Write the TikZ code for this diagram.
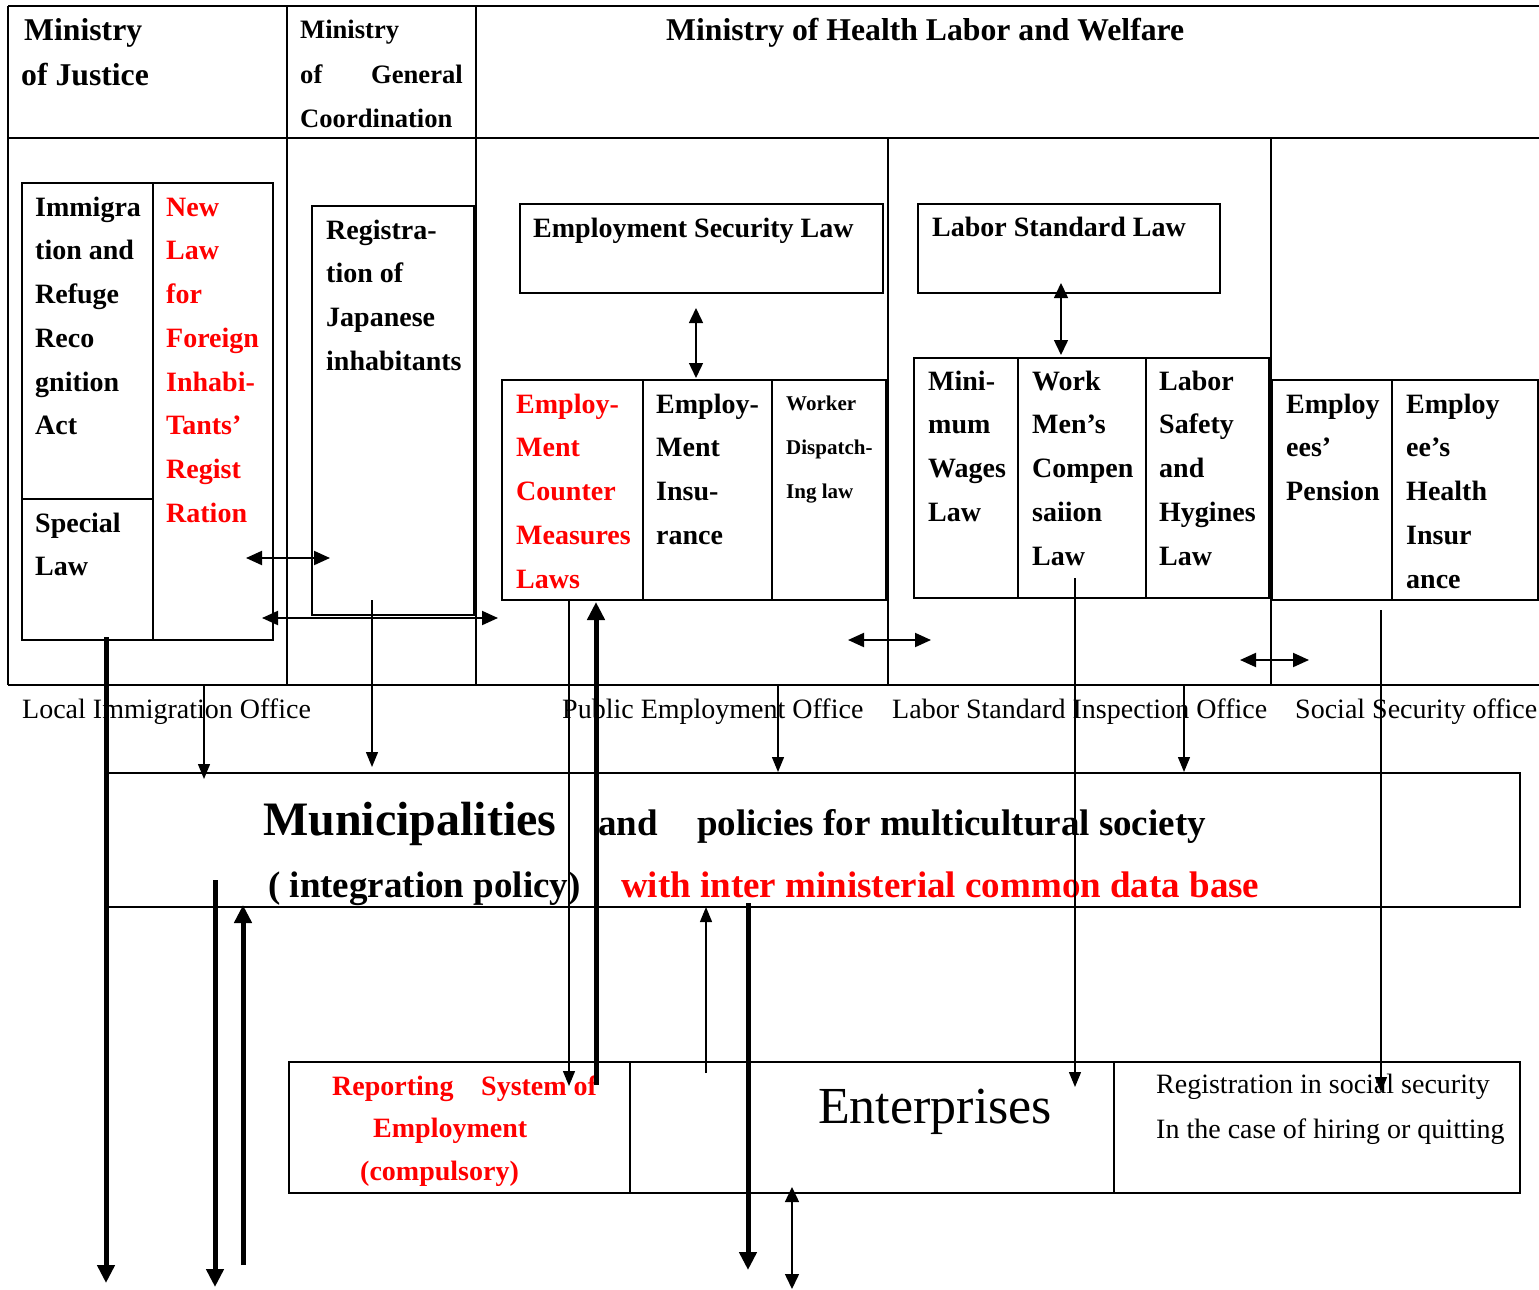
\documentclass[tikz,border=0pt]{standalone}
\usepackage{fontspec}
\setmainfont{Liberation Serif}
\usetikzlibrary{arrows.meta}
\definecolor{myred}{RGB}{255,0,0}
\newcommand\fl{\rule{0pt}{30pt}}
\tikzset{
  frame/.style={line width=2pt},
  box/.style={draw, line width=2pt, inner sep=0pt, outer sep=0pt, anchor=north west},
  bt/.style={font=\fontsize{28}{43.75}\selectfont\bfseries, inner sep=0pt, align=left},
  st/.style={font=\fontsize{21}{44}\selectfont\bfseries, inner sep=0pt, align=left},
  rt/.style={font=\fontsize{28}{45}\selectfont, inner sep=0pt, anchor=base west},
  ml/.style={anchor=north west, yshift=30pt},
  bl/.style={anchor=base west},
  hd/.style={font=\fontsize{31.7}{40}\selectfont\bfseries, inner sep=0pt, anchor=base west},
  hg/.style={font=\fontsize{26.6}{40}\selectfont\bfseries, inner sep=0pt, anchor=base west},
  big/.style={font=\fontsize{37}{40}\selectfont\bfseries, inner sep=0pt, anchor=base west},
  thinarr/.style={line width=1.3pt, -{Triangle[length=15pt,width=12pt]}},
  thickarr/.style={line width=5pt, -{Triangle[length=18pt,width=17pt]}},
  dblh/.style={line width=2pt, {Triangle[length=16pt,width=14pt]}-{Triangle[length=16pt,width=14pt]}},
  dblv/.style={line width=1.5pt, {Triangle[length=15pt,width=14pt]}-{Triangle[length=15pt,width=14pt]}},
}
\begin{document}
\begin{tikzpicture}[x=1pt,y=-1pt]
\useasboundingbox (0,0) rectangle (1539,1290);
% outer frame
\draw[frame] (8,6) -- (1539,6);
\draw[frame] (8,138) -- (1539,138);
\draw[frame] (8,685) -- (1539,685);
\draw[frame] (8,6) -- (8,685);
\draw[frame] (287,6) -- (287,685);
\draw[frame] (476,6) -- (476,685);
\draw[frame] (888,138) -- (888,685);
\draw[frame] (1271,138) -- (1271,685);
% boxes
\node[box, minimum width=251pt, minimum height=457pt] (immbox) at (22,183) {};
\draw[frame] (153,183) -- (153,640);
\draw[frame] (22,499) -- (153,499);
\node[box, minimum width=162pt, minimum height=409pt] (regbox) at (312,206) {};
\node[box, minimum width=363pt, minimum height=89pt] (eslbox) at (520,204) {};
\node[box, minimum width=384pt, minimum height=220pt] (empbox) at (502,380) {};
\draw[frame] (643,380) -- (643,600);
\draw[frame] (772,380) -- (772,600);
\node[box, minimum width=302pt, minimum height=89pt] (lslbox) at (918,204) {};
\node[box, minimum width=355pt, minimum height=240pt] (labbox) at (914,358) {};
\draw[frame] (1018,358) -- (1018,598);
\draw[frame] (1146,358) -- (1146,598);
\node[box, minimum width=266pt, minimum height=220pt] (penbox) at (1272,380) {};
\draw[frame] (1392,380) -- (1392,600);
\node[box, minimum width=1413pt, minimum height=134pt] (munbox) at (107,773) {};
\node[box, minimum width=1231pt, minimum height=131pt] (entbox) at (289,1062) {};
\draw[frame] (630,1062) -- (630,1193);
\draw[frame] (1114,1062) -- (1114,1193);
% headers
\node[hd] (mj1) at (24,41) {Ministry};
\node[hd] (mj2) at (21,85) {of Justice};
\node[hg] (mg1) at (300,39) {Ministry};
\node[hg] (mg2) at (300,83) {of};
\node[hg] (mg3) at (371,83) {General};
\node[hg] (mg4) at (300,127) {Coordination};
\node[hd] (mh) at (666,41) {Ministry of Health Labor and Welfare};
% box texts
\node[bt, ml] (imm) at (35,216) {\fl Immigra\\tion and\\Refuge\\Reco\\gnition\\Act};
\node[bt, ml] (spl) at (35,532) {\fl Special\\Law};
\node[bt, ml, text=myred] (nlf) at (166,216) {\fl New\\Law\\for\\Foreign\\Inhabi-\\Tants’\\Regist\\Ration};
\node[bt, ml] (reg) at (326,239) {\fl Registra-\\tion of\\Japanese\\inhabitants};
\node[bt, bl] (esl) at (533,237) {Employment Security Law};
\node[bt, bl] (lsl) at (932,236) {Labor Standard Law};
\node[bt, ml, text=myred] (ecm) at (516,413) {\fl Employ-\\Ment\\Counter\\Measures\\Laws};
\node[bt, ml] (eins) at (656,413) {\fl Employ-\\Ment\\Insu-\\rance};
\node[st, ml] (wdl) at (786,410) {\fl Worker\\Dispatch-\\Ing law};
\node[bt, ml] (mwl) at (928,390) {\fl Mini-\\mum\\Wages\\Law};
\node[bt, ml] (wmc) at (1032,390) {\fl Work\\Men’s\\Compen\\saiion\\Law};
\node[bt, ml] (lsh) at (1159,390) {\fl Labor\\Safety\\and\\Hygines\\Law};
\node[bt, ml] (ep) at (1286,413) {\fl Employ\\ees’\\Pension};
\node[bt, ml] (ehi) at (1406,413) {\fl Employ\\ee’s\\Health\\Insur\\ance};
% office labels
\node[rt] (lio) at (22,718) {Local Immigration Office};
\node[rt] (peo) at (562,718) {Public Employment Office};
\node[rt] (lsio) at (892,718) {Labor Standard Inspection Office};
\node[rt] (sso) at (1295,718) {Social Security office};
% municipalities
\node[font=\fontsize{48}{50}\selectfont\bfseries, inner sep=0pt, anchor=base west] (mun) at (263,835) {Municipalities};
\node[big] (and) at (598,835) {and};
\node[big] (pol) at (697,835) {policies for multicultural society};
\node[big] (ipol) at (268,897) {( integration policy)};
\node[big, text=myred] (db) at (621,897) {with inter ministerial common data base};
% enterprises
\node[bt, bl, text=myred] (rep1) at (332,1095) {Reporting};
\node[bt, bl, text=myred] (rep2) at (481,1095) {System of};
\node[bt, bl, text=myred] (rep3) at (373,1137) {Employment};
\node[bt, bl, text=myred] (rep4) at (360,1180) {(compulsory)};
\node[font=\fontsize{52}{54}\selectfont, inner sep=0pt, anchor=base west] (ent) at (818,1123) {Enterprises};
\node[rt] (rs1) at (1156,1093) {Registration in social security};
\node[rt] (rs2) at (1156,1138) {In the case of hiring or quitting};
% arrow end points
\coordinate (a1s) at (106,637);  \coordinate (a1e) at (106,1283);
\coordinate (a2s) at (215,880);  \coordinate (a2e) at (215,1287);
\coordinate (a3s) at (243,1265); \coordinate (a3e) at (243,905);
\coordinate (a4s) at (246,558);  \coordinate (a4e) at (330,558);
\coordinate (a5s) at (262,618);  \coordinate (a5e) at (498,618);
\coordinate (a6s) at (372,600);  \coordinate (a6e) at (372,767);
\coordinate (a7s) at (204,685);  \coordinate (a7e) at (204,779);
\coordinate (a8s) at (569,600);  \coordinate (a8e) at (569,1086);
\coordinate (a9s) at (596,1085); \coordinate (a9e) at (596,602);
\coordinate (a10s) at (778,686); \coordinate (a10e) at (778,772);
\coordinate (a11s) at (706,1073); \coordinate (a11e) at (706,907);
\coordinate (a12s) at (748,903); \coordinate (a12e) at (748,1270);
\coordinate (a13s) at (792,1187); \coordinate (a13e) at (792,1289);
\coordinate (a14s) at (696,308); \coordinate (a14e) at (696,378);
\coordinate (a15s) at (1061,283); \coordinate (a15e) at (1061,355);
\coordinate (a16s) at (848,640); \coordinate (a16e) at (931,640);
\coordinate (a17s) at (1240,660); \coordinate (a17e) at (1309,660);
\coordinate (a18s) at (1075,578); \coordinate (a18e) at (1075,1087);
\coordinate (a19s) at (1184,684); \coordinate (a19e) at (1184,772);
\coordinate (a20s) at (1381,610); \coordinate (a20e) at (1381,1092);
% arrows
\draw[thickarr] (a1s) -- (a1e);
\draw[thickarr] (a2s) -- (a2e);
\draw[thickarr] (a3s) -- (a3e);
\draw[dblh] (a4s) -- (a4e);
\draw[dblh] (a5s) -- (a5e);
\draw[thinarr] (a6s) -- (a6e);
\draw[thinarr] (a7s) -- (a7e);
\draw[thinarr] (a8s) -- (a8e);
\draw[thickarr] (a9s) -- (a9e);
\draw[thinarr] (a10s) -- (a10e);
\draw[thinarr] (a11s) -- (a11e);
\draw[thickarr] (a12s) -- (a12e);
\draw[dblv] (a13s) -- (a13e);
\draw[dblv] (a14s) -- (a14e);
\draw[dblv] (a15s) -- (a15e);
\draw[dblh] (a16s) -- (a16e);
\draw[dblh] (a17s) -- (a17e);
\draw[thinarr] (a18s) -- (a18e);
\draw[thinarr] (a19s) -- (a19e);
\draw[thinarr] (a20s) -- (a20e);
\end{tikzpicture}
\end{document}
